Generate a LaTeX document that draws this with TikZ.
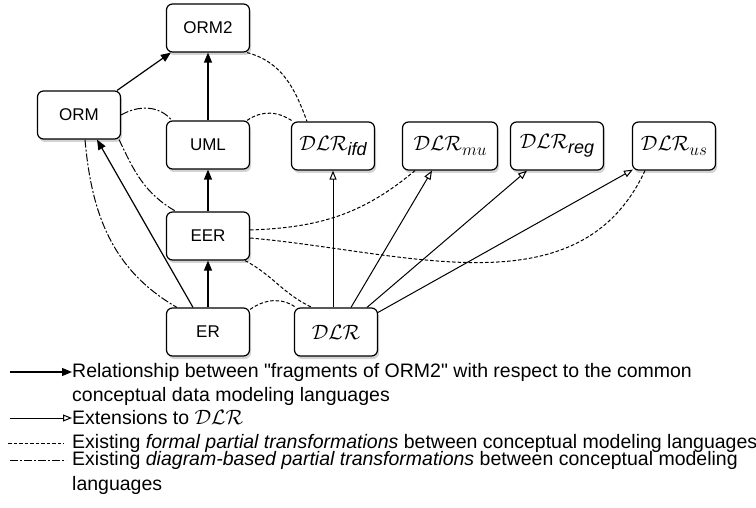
\documentclass[tikz,border=0pt]{standalone}
\usepackage{fontspec}
\setmainfont{Liberation Sans}[Ligatures=TeXOff]
\usetikzlibrary{arrows.meta,shadows}

\newcommand{\dlr}{\mathcal{DLR}}
\newcommand{\dlrsub}[1]{$\dlr$\raisebox{-5pt}{\fontsize{18}{18}\selectfont#1}}

\tikzset{
  lang/.style={draw,line width=1.2pt,rounded corners=6pt,fill=white,
    minimum width=83pt,minimum height=48pt,inner sep=0pt,
    font=\fontsize{17}{19}\selectfont,
    drop shadow={opacity=0.35,shadow xshift=1.5pt,shadow yshift=-3pt}},
  dlrlang/.style={lang,font=\fontsize{20}{22}\selectfont},
  rel/.style={line width=1.2pt,-{Triangle[length=10pt,width=8pt]}},
  ext/.style={line width=1pt,-{Triangle[open,length=9pt,width=7pt]}},
  formal/.style={line width=1pt,dash pattern=on 3.5pt off 2pt},
  diagram/.style={line width=1pt,dash pattern=on 8pt off 2pt on 2pt off 2pt},
  legtext/.style={anchor=west,inner sep=0pt,font=\fontsize{19.5}{21}\selectfont}
}

\begin{document}
\begin{tikzpicture}[x=1pt,y=1pt]
    \useasboundingbox (0,0) rectangle (756,-508);

    % languages
    \node[lang] (orm2) at (208,-28) {ORM2};
    \node[lang] (orm) at (79,-115) {ORM};
    \node[lang] (uml) at (208,-145) {UML};
    \node[lang] (eer) at (208,-236) {EER};
    \node[lang] (er) at (208,-332) {ER};
    \node[dlrlang] (dlr) at (336,-332) {$\dlr$};
    \node[dlrlang] (ifd) at (333,-146) {\dlrsub{\itshape ifd}};
    \node[dlrlang,minimum width=95pt] (mu) at (450,-146) {\dlrsub{$mu$}};
    \node[dlrlang,minimum width=93pt] (reg) at (557,-146) {\dlrsub{\itshape reg}};
    \node[dlrlang] (us) at (674,-146) {\dlrsub{$us$}};

    % relationships between the fragments
    \draw[rel] ([xshift=-4pt]orm.north east) -- ([xshift=5pt]orm2.south west);
    \draw[rel] (uml) -- (orm2);
    \draw[rel] (eer) -- (uml);
    \draw[rel] (er) -- (eer);
    \draw[rel] ([xshift=-15pt]er.north) -- ([xshift=18pt]orm.south);

    % extensions
    \draw[ext] (dlr.north -| ifd.south) -- (ifd.south);
    \draw[ext] ([xshift=15pt]dlr.north) -- ([xshift=-18pt]mu.south);
    \draw[ext] ([xshift=31pt]dlr.north) -- ([xshift=-30pt]reg.south);
    \draw[ext] ([yshift=-5pt]dlr.north east) -- ([xshift=1pt,yshift=1pt]us.south west);

    % formal transformations
    \draw[formal] ([xshift=-3pt]orm2.south east) to[out=-15,in=110] ([xshift=-26pt]ifd.north);
    \draw[formal] ([xshift=-3pt]uml.north east) to[out=35,in=145] ([xshift=2pt]ifd.north west);
    \draw[formal] ([yshift=6pt]eer.east) to[out=2,in=-140] ([xshift=-35pt]mu.south);
    \draw[formal] ([yshift=-2pt]eer.east) to[out=-5,in=-115] ([xshift=-29pt]us.south);
    \draw[formal] ([xshift=-5pt]eer.south east) to[out=-28,in=155] ([xshift=-24pt]dlr.north);
    \draw[formal] ([yshift=-2pt]er.north east) to[out=35,in=145] ([xshift=2pt]dlr.north west);

    % diagram-based transformations
    \draw[diagram] (orm.east) to[out=30,in=130] ([xshift=6pt]uml.north west);
    \draw[diagram] ([xshift=-2pt]orm.south east) to[out=-65,in=150] ([xshift=10pt]eer.north west);
    \draw[diagram] ([xshift=6pt]orm.south) to[out=-85,in=150] ([xshift=11pt]er.north west);

    % legend
    \coordinate (relstart) at (10,-372);
    \node[legtext] (reltext) at (72,-372) {Relationship between "fragments of ORM2" with respect to the common};
    \node[legtext] (reltextb) at (72,-396) {conceptual data modeling languages};
    \draw[rel] (relstart) -- (reltext.west);
    \coordinate (extstart) at (10,-418);
    \node[legtext] (exttext) at (72,-418) {Extensions to $\dlr$};
    \draw[ext] (extstart) -- (exttext.west);
    \coordinate (formalstart) at (8,-443);
    \node[legtext] (formaltext) at (72,-443) {Existing \textit{formal partial transformations} between conceptual modeling languages};
    \draw[formal] (formalstart) -- ([xshift=-8pt]formaltext.west);
    \coordinate (diagstart) at (10,-460);
    \node[legtext] (diagtext) at (72,-460) {Existing \textit{diagram-based partial transformations} between conceptual modeling};
    \draw[diagram] (diagstart) -- ([xshift=-6pt]diagtext.west);
    \node[legtext] (diagtextb) at (72,-485) {languages};
\end{tikzpicture}
\end{document}
